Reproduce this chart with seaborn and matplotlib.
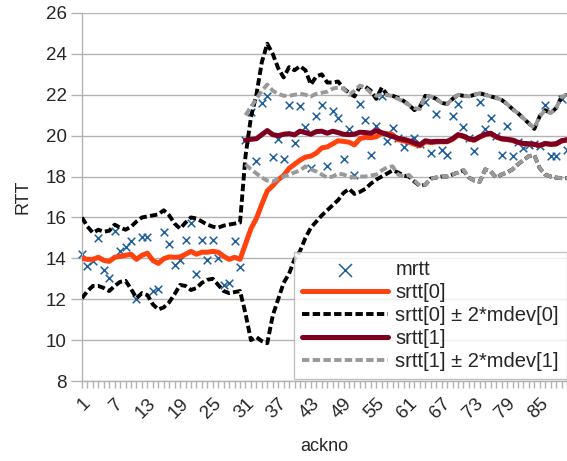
import numpy as np
import pandas as pd
import matplotlib
matplotlib.use("Agg")
import matplotlib.pyplot as plt
import seaborn as sns
from matplotlib.ticker import MultipleLocator

# ack numbers: srtt[1] only exists from ack 31 on
ackno = list(range(1, 91))
ackno_1 = list(range(31, 91))

mrtt = [14.2, 13.64, 13.85, 15.0, 13.44, 13.04, 15.35, 14.34, 14.53, 14.83,
        12.02, 15.02, 15.02, 12.42, 12.5, 15.28, 14.71, 13.65, 13.9, 14.88,
        15.75, 13.25, 14.88, 13.93, 14.88, 14.04, 12.7, 12.78, 14.83, 13.6,
        19.77, 21.15, 18.77, 21.62, 21.92, 18.98, 19.85, 18.88, 21.5, 19.63,
        21.43, 20.4, 18.4, 20.94, 21.52, 18.5, 21.2, 20.88, 18.84, 20.32,
        18.09, 21.54, 20.79, 19.07, 20.46, 21.96, 19.75, 20.38, 19.9, 19.47,
        19.75, 19.9, 19.6, 21.67, 19.13, 21.05, 19.31, 19.05, 20.97, 21.54,
        20.4, 19.9, 19.24, 21.64, 20.34, 20.87, 20.0, 19.05, 20.45, 19.0,
        19.7, 19.42, 19.56, 19.6, 19.5, 21.48, 19.0, 19.0, 21.8, 19.31]

srtt0 = [14.0, 13.95, 13.95, 14.05, 13.9, 13.85, 14.05, 14.1, 14.15, 14.2,
         13.95, 14.15, 14.25, 13.9, 13.75, 13.98, 14.07, 14.05, 14.07, 14.2,
         14.34, 14.2, 14.3, 14.3, 14.34, 14.3, 14.1, 13.95, 14.05, 13.95,
         14.7, 15.45, 15.95, 16.65, 17.3, 17.55, 17.85, 18.05, 18.4, 18.6,
         18.8, 18.95, 19.0, 19.15, 19.4, 19.45, 19.6, 19.75, 19.72, 19.68,
         19.55, 19.85, 19.92, 19.9, 19.95, 20.12, 20.1, 20.05, 19.8, 19.75,
         19.68, 19.58, 19.5, 19.7, 19.66, 19.69, 19.7, 19.7, 19.82, 20.02,
         19.96, 19.83, 19.78, 19.93, 20.05, 20.1, 19.94, 19.84, 19.81, 19.77,
         19.67, 19.61, 19.59, 19.57, 19.51, 19.61, 19.57, 19.59, 19.74, 19.79]

upper0 = [16.0, 15.55, 15.25, 15.4, 15.3, 15.35, 15.65, 15.5, 15.4, 15.55,
          15.8, 16.0, 16.05, 16.1, 16.15, 16.35, 16.1, 15.7, 15.45, 15.75,
          16.0, 15.95, 15.8, 15.65, 15.55, 15.5, 15.6, 15.65, 15.7, 15.75,
          19.0, 20.9, 22.0, 23.6, 24.5, 24.0, 23.3, 22.85, 23.35, 23.2,
          23.4, 23.2, 22.5, 22.9, 23.0, 22.6, 22.6, 22.65, 22.3, 22.1,
          21.92, 22.4, 22.4, 22.2, 21.8, 22.35, 22.0, 21.95, 21.85, 21.7,
          21.5, 21.25, 21.4, 21.95, 21.92, 21.8, 21.6, 21.55, 21.8, 22.0,
          21.95, 21.92, 22.0, 22.08, 22.0, 21.92, 21.85, 21.75, 21.55, 21.3,
          21.1, 20.85, 20.6, 20.33, 20.95, 21.25, 21.1, 21.35, 21.9, 22.0]

lower0 = [12.05, 12.4, 12.65, 12.65, 12.55, 12.4, 12.65, 12.85, 12.9, 12.5,
          12.05, 12.3, 12.2, 11.75, 11.5, 11.6, 11.85, 12.25, 12.7, 12.65,
          12.45, 12.55, 12.8, 12.95, 13.0, 12.7, 12.4, 12.3, 12.35, 12.4,
          11.3, 10.0, 10.15, 9.95, 9.85, 11.2, 12.0, 12.8, 13.25, 13.95,
          14.35, 15.0, 15.5, 15.8, 16.1, 16.35, 16.6, 16.85, 17.2, 17.4,
          17.15, 17.25, 17.4, 17.65, 17.85, 18.0, 18.15, 18.3, 18.2, 18.05,
          18.0, 17.75, 17.55, 17.6, 17.9, 17.95, 18.0, 18.0, 18.1, 18.2,
          18.3, 17.95, 17.8, 17.75, 18.35, 18.25, 17.95, 18.1, 18.2, 18.35,
          18.6, 18.8, 19.0, 19.05, 18.4, 18.1, 18.0, 17.95, 17.92, 17.92]

srtt1 = [19.78, 19.82, 19.85, 20.05, 20.25, 20.05, 20.0, 20.07, 20.1, 20.04,
         20.22, 20.15, 20.07, 20.2, 20.22, 20.12, 20.22, 20.15, 20.07, 20.05,
         20.07, 20.17, 20.15, 20.12, 20.25, 20.15, 20.05, 19.96, 19.87, 19.82,
         19.75, 19.65, 19.55, 19.75, 19.7, 19.72, 19.72, 19.72, 19.85, 20.05,
         19.98, 19.85, 19.8, 19.95, 20.07, 20.12, 19.95, 19.85, 19.82, 19.78,
         19.68, 19.62, 19.6, 19.58, 19.52, 19.62, 19.58, 19.6, 19.75, 19.8]

upper1 = [21.0, 21.4, 21.8, 22.2, 22.5, 22.2, 22.05, 21.95, 21.95, 22.0,
          22.05, 22.0, 21.92, 22.05, 22.1, 22.15, 22.3, 22.35, 22.3, 22.0,
          22.2, 22.45, 22.35, 22.1, 21.95, 22.0, 22.0, 21.92, 21.8, 21.67,
          21.5, 21.35, 21.3, 21.95, 21.92, 21.8, 21.6, 21.55, 21.8, 22.0,
          21.95, 21.92, 22.0, 22.08, 22.0, 21.92, 21.85, 21.75, 21.55, 21.3,
          21.1, 20.85, 20.6, 20.37, 20.95, 21.25, 21.1, 21.35, 21.9, 22.0]

lower1 = [18.6, 18.35, 18.15, 17.95, 17.8, 17.75, 17.9, 18.0, 18.1, 18.2,
          18.3, 18.5, 18.35, 18.25, 18.1, 17.95, 18.0, 18.15, 18.1, 18.0,
          17.95, 18.0, 18.0, 18.05, 18.1, 18.3, 18.45, 18.5, 18.1, 18.0,
          18.08, 17.8, 17.55, 17.6, 17.9, 17.95, 18.0, 18.0, 18.1, 18.2,
          18.33, 17.95, 17.8, 17.75, 18.35, 18.25, 17.95, 18.1, 18.2, 18.35,
          18.6, 18.8, 19.0, 19.05, 18.4, 18.1, 18.0, 17.95, 17.92, 17.92]

sns.set_style("white")
plt.rcParams['font.family'] = ['Liberation Sans', 'DejaVu Sans']

fig = plt.figure(figsize=(5.67, 4.61), dpi=100)
ax = fig.add_axes([82 / 567, 80 / 461, 485 / 567, 368 / 461])

dash = (0, (1.9, 0.85))
sns.scatterplot(x=ackno, y=mrtt, marker='x', color='#1f5f9f', s=30,
                linewidth=1.1, ax=ax, label='mrtt', zorder=2, clip_on=False)
sns.lineplot(x=ackno, y=srtt0, color='#ff420e', linewidth=3.6, ax=ax,
             label='srtt[0]', zorder=3)
sns.lineplot(x=ackno, y=upper0, color='black', linewidth=2.8, linestyle=dash,
             ax=ax, label='srtt[0] ± 2*mdev[0]', zorder=4)
sns.lineplot(x=ackno, y=lower0, color='black', linewidth=2.8, linestyle=dash,
             ax=ax, zorder=4)
sns.lineplot(x=ackno_1, y=srtt1, color='#7e0021', linewidth=3.6, ax=ax,
             label='srtt[1]', zorder=5)
sns.lineplot(x=ackno_1, y=upper1, color='#999999', linewidth=2.8, linestyle=dash,
             ax=ax, label='srtt[1] ± 2*mdev[1]', zorder=6)
sns.lineplot(x=ackno_1, y=lower1, color='#999999', linewidth=2.8, linestyle=dash,
             ax=ax, zorder=6)

ax.set_xlim(1, 90)
ax.set_ylim(8, 26)
ax.set_yticks(np.arange(8, 27, 2))
ax.set_xticks(list(range(1, 90, 6)))
ax.xaxis.set_minor_locator(MultipleLocator(1))
ax.tick_params(axis='x', which='both', direction='out', length=5, width=1,
               color='#b3b3b3', bottom=True, labelsize=13.5, pad=5)
ax.tick_params(axis='y', direction='out', length=8, width=1, color='#b3b3b3',
               left=True, labelsize=13.5, pad=3)
plt.setp(ax.get_xticklabels(), rotation=45, ha='right', rotation_mode='anchor')

ax.yaxis.grid(True, color='#b3b3b3', linewidth=1)
ax.set_axisbelow(True)
for side in ['top', 'right']:
    ax.spines[side].set_visible(False)
for side in ['left', 'bottom']:
    ax.spines[side].set_color('#b3b3b3')
    ax.spines[side].set_linewidth(1)

ax.set_xlabel('ackno', fontsize=13, labelpad=12)
ax.set_ylabel('RTT', fontsize=13, labelpad=10)

leg = ax.legend(loc='lower right', bbox_to_anchor=(1.004, 0.0), frameon=True,
                fancybox=False, edgecolor='#b3b3b3', fontsize=14.5,
                handlelength=4.3, handletextpad=0.35, labelspacing=0.2,
                borderaxespad=0.1, markerscale=1.7, borderpad=0.4)
leg.get_frame().set_linewidth(1)
leg.set_zorder(10)

fig.savefig('out.png', dpi=100)
